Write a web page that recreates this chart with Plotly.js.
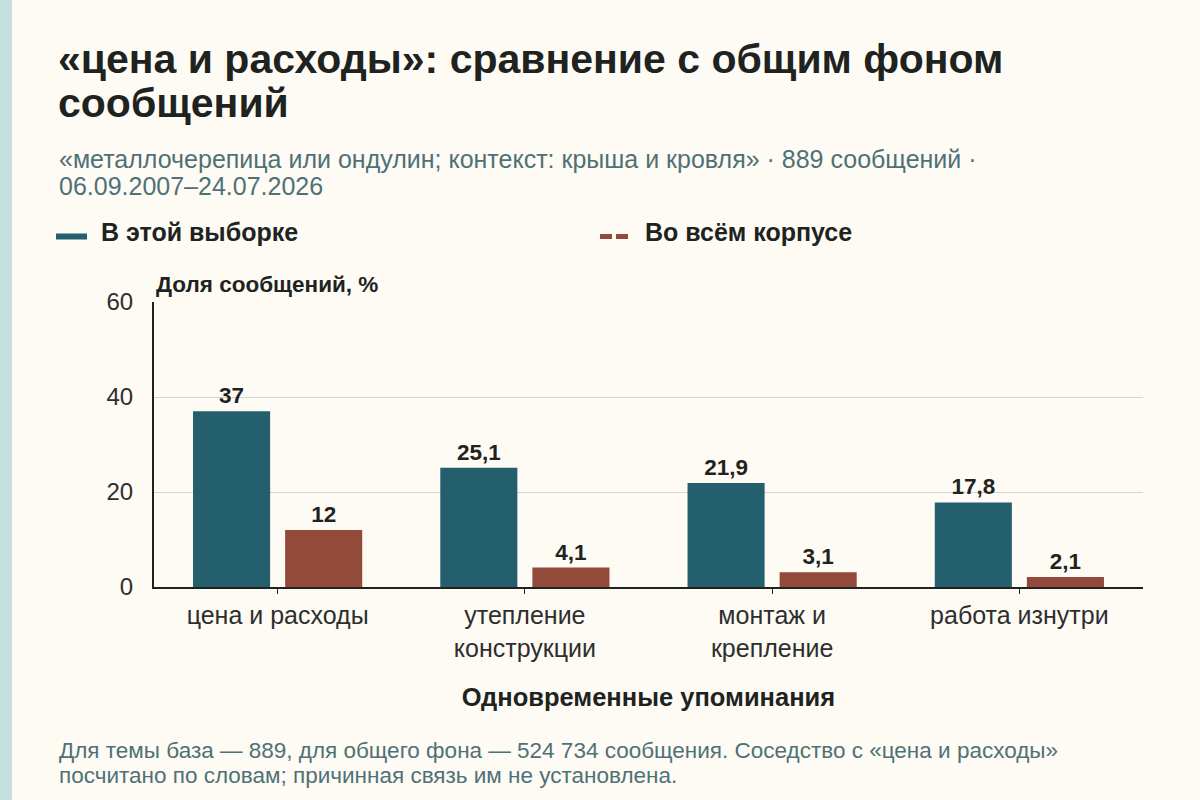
<!DOCTYPE html>
<html>
<head>
<meta charset="utf-8">
<script src="https://cdn.plot.ly/plotly-3.0.1.min.js"></script>
<style>
  html, body { margin: 0; padding: 0; background: #fdfbf4; }
  #strip { position: absolute; left: 0; top: 0; width: 12px; height: 800px; background: #c3dfe0; }
  #chart { width: 1200px; height: 800px; }
</style>
</head>
<body>
<div id="strip"></div>
<div id="chart"></div>
<script>
// categories and values
var categories = ['цена и расходы', 'утепление<br>конструкции', 'монтаж и<br>крепление', 'работа изнутри'];
var sampleShare = [37, 25.1, 21.9, 17.8];
var corpusShare = [12, 4.1, 3.1, 2.1];
var seriesNames = ['В этой выборке', 'Во всём корпусе'];
var yTicks = [0, 20, 40, 60];

var titleLines = ['«цена и расходы»: сравнение с общим фоном', 'сообщений'];
var subtitleLines = ['«металлочерепица или ондулин; контекст: крыша и кровля» · 889 сообщений ·',
                     '06.09.2007–24.07.2026'];
var noteLines = ['Для темы база — 889, для общего фона — 524 734 сообщения. Соседство с «цена и расходы»',
                 'посчитано по словам; причинная связь им не установлена.'];

var teal = '#245f6d';
var brick = '#944a3a';
var muted = '#4f7176';
var ink = '#1f231f';

var font = "'Liberation Sans', Arial, sans-serif";

// plot box in page pixels
var M = { l: 154, r: 57, t: 302, b: 213 };
var PW = 1200 - M.l - M.r, PH = 800 - M.t - M.b;
function px(x) { return (x - M.l) / PW; }
function py(y) { return (800 - M.b - y) / PH; }

function barTrace(name, values, color) {
    return {
        type: 'bar',
        name: name,
        x: categories,
        y: values,
        marker: { color: color },
        texttemplate: '%{y}',
        textposition: 'outside',
        textfont: { family: font, size: 22.5, color: ink, weight: 'bold' },
        cliponaxis: false,
        showlegend: false,
        hoverinfo: 'x+y'
    };
}

function label(text, x, y, size, color, bold) {
    return {
        text: text, xref: 'paper', yref: 'paper', x: px(x), y: py(y),
        xanchor: 'left', yanchor: 'middle', align: 'left', showarrow: false,
        font: { family: font, size: size, color: color, weight: bold ? 'bold' : 'normal' }
    };
}

var traces = [
    barTrace(seriesNames[0], sampleShare, teal),
    barTrace(seriesNames[1], corpusShare, brick)
];

var annotations = [
    label(titleLines[0], 56, 59, 41, ink, true),
    label(titleLines[1], 56, 103, 41, ink, true),
    label(subtitleLines[0], 57, 159, 25, muted, false),
    label(subtitleLines[1], 57, 186, 25, muted, false),
    label(seriesNames[0], 99, 232, 25, ink, true),
    label(seriesNames[1], 643, 232, 25, ink, true),
    label('Доля сообщений, %', 154, 284, 22.5, ink, true),
    label(noteLines[0], 57, 750, 22.5, muted, false),
    label(noteLines[1], 57, 775, 22.5, muted, false)
];

var layout = {
    width: 1200,
    height: 800,
    paper_bgcolor: 'rgba(0,0,0,0)',
    plot_bgcolor: 'rgba(0,0,0,0)',
    separators: ', ',
    font: { family: font, color: ink },
    margin: M,
    barmode: 'group',
    bargap: 0.255,
    bargroupgap: 0.163,
    xaxis: {
        tickvals: categories,
        ticks: 'outside',
        ticklen: 5,
        tickcolor: ink,
        tickfont: { family: font, size: 25, color: '#2e2e2e' },
        showline: true,
        linecolor: ink,
        linewidth: 2,
        title: {
            text: 'Одновременные упоминания',
            standoff: 28,
            font: { family: font, size: 25.5, color: ink, weight: 'bold' }
        }
    },
    yaxis: {
        range: [0, 60],
        tickvals: yTicks,
        tickfont: { family: font, size: 24, color: '#2e2e2e' },
        showgrid: true,
        gridcolor: '#d6d4cc',
        gridwidth: 1,
        showline: true,
        linecolor: ink,
        linewidth: 2,
        zeroline: false,
        ticklabelstandoff: 14
    },
    shapes: [
        // legend swatches
        { type: 'line', xref: 'paper', yref: 'paper',
          x0: px(56), x1: px(87), y0: py(236.5), y1: py(236.5),
          line: { color: teal, width: 6 } },
        { type: 'line', xref: 'paper', yref: 'paper',
          x0: px(600), x1: px(631), y0: py(236.5), y1: py(236.5),
          line: { color: brick, width: 5, dash: '12px,4px' } }
    ],
    annotations: annotations
};

Plotly.newPlot('chart', traces, layout, { displayModeBar: false, staticPlot: true });
</script>
</body>
</html>
